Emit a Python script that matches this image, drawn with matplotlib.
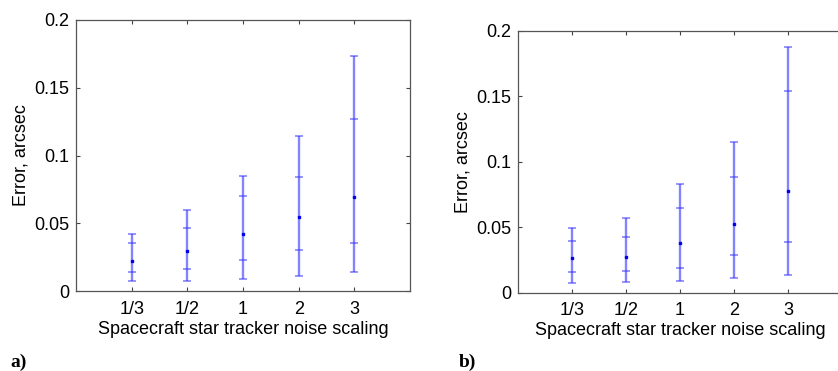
import matplotlib.pyplot as plt

plt.rcParams['font.family'] = ['Liberation Sans', 'DejaVu Sans']

labels = ["1/3", "1/2", "1", "2", "3"]

# panel a: min, lower, median, upper, max
a_min = [0.0072, 0.0074, 0.0091, 0.0108, 0.0140]
a_low = [0.0138, 0.0165, 0.0226, 0.0300, 0.0352]
a_med = [0.0224, 0.0293, 0.0423, 0.0548, 0.0691]
a_up = [0.0354, 0.0467, 0.0699, 0.0841, 0.1267]
a_max = [0.0420, 0.0600, 0.0849, 0.1144, 0.1737]

# panel b
b_min = [0.0076, 0.0079, 0.0087, 0.0112, 0.0137]
b_low = [0.0156, 0.0168, 0.0191, 0.0290, 0.0389]
b_med = [0.0262, 0.0273, 0.0377, 0.0522, 0.0774]
b_up = [0.0397, 0.0428, 0.0647, 0.0886, 0.1540]
b_max = [0.0494, 0.0573, 0.0830, 0.1150, 0.1880]


def draw(ax, lo, q1, med, q3, hi):
    x = list(range(1, len(labels) + 1))
    ax.errorbar(x, med, yerr=[[m - l for m, l in zip(med, lo)], [h - m for m, h in zip(med, hi)]],
                fmt='none', ecolor='#3333ff', alpha=0.6, elinewidth=1.7, capsize=3, capthick=1.2)
    ax.errorbar(x, med, yerr=[[m - l for m, l in zip(med, q1)], [h - m for m, h in zip(med, q3)]],
                fmt='none', ecolor='#3333ff', alpha=0.6, elinewidth=0, capsize=3, capthick=1.2)
    ax.plot(x, med, ls='none', marker='s', ms=1.6, color='#0000ee')
    ax.set_xlim(0, 6)
    ax.set_ylim(0, 0.2)
    ax.set_xticks(x)
    ax.set_xticklabels(labels)
    ax.set_yticks([0, 0.05, 0.1, 0.15, 0.2])
    ax.set_yticklabels(["0", "0.05", "0.1", "0.15", "0.2"])
    ax.tick_params(direction='in', top=True, right=True, length=3, width=0.8,
                   color='#444444', labelsize=13, pad=5)
    ax.tick_params(axis='x', pad=7)
    for s in ax.spines.values():
        s.set_color('#555555')
        s.set_linewidth(0.9)
    ax.set_xlabel("Spacecraft star tracker noise scaling", fontsize=13, labelpad=2)
    ax.set_ylabel("Error, arcsec", fontsize=13, labelpad=3)


fig = plt.figure(figsize=(8.38, 3.71), dpi=100)
ax1 = fig.add_axes([0.0907, 0.2156, 0.3986, 0.7305])
ax2 = fig.add_axes([0.618, 0.211, 0.3866, 0.706])
draw(ax1, a_min, a_low, a_med, a_up, a_max)
draw(ax2, b_min, b_low, b_med, b_up, b_max)

fig.text(0.012, 0.01, "a)", family=['Liberation Serif'], weight='bold', fontsize=14)
fig.text(0.548, 0.01, "b)", family=['Liberation Serif'], weight='bold', fontsize=14)

fig.savefig("out.png", dpi=100)
